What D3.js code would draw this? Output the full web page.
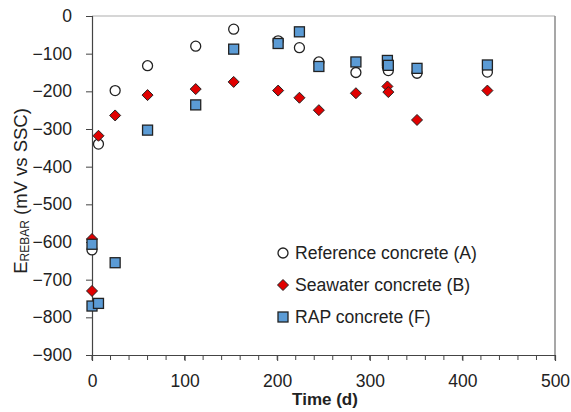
<!DOCTYPE html>
<html>
<head>
<meta charset="utf-8">
<script src="https://cdn.jsdelivr.net/npm/d3@7"></script>
<style>
  body { margin: 0; background: #fff; }
  svg { font-family: "Liberation Sans", "DejaVu Sans", sans-serif; }
  .tick text { font-size: 17.5px; fill: #222; }
</style>
</head>
<body>
<svg id="chart" width="571" height="412"></svg>
<script>
// Reference concrete (A): [time in days, potential in mV]
const refData = [
  [0, -621], [7, -340], [25, -198], [60, -132], [112, -80], [153, -35],
  [201, -66], [224, -84], [245, -122], [285, -150], [319, -136], [320, -145],
  [351, -152], [427, -149]
];
// Seawater concrete (B)
const seaData = [
  [0, -592], [0, -730], [7, -318], [25, -264], [60, -210], [112, -194], [153, -175],
  [201, -198], [224, -217], [245, -250], [285, -205], [319, -187], [320, -202],
  [351, -276], [427, -198]
];
// RAP concrete (F)
const rapData = [
  [0, -606], [0, -770], [7, -763], [25, -655], [60, -303], [112, -236], [153, -88],
  [201, -73], [224, -42], [245, -134], [285, -122], [319, -118], [320, -131],
  [351, -139], [427, -130]
];
const xTicks = [0, 100, 200, 300, 400, 500];
const yTicks = [0, -100, -200, -300, -400, -500, -600, -700, -800, -900];
const legendLabels = ["Reference concrete (A)", "Seawater concrete (B)", "RAP concrete (F)"];

const svg = d3.select("#chart");
const margin = { left: 92, right: 16, top: 16, bottom: 57 };
const W = 571, H = 412;

const x = d3.scaleLinear().domain([0, 500]).range([margin.left, W - margin.right]);
const y = d3.scaleLinear().domain([-900, 0]).range([H - margin.bottom, margin.top]);

// plot box: light top, darker right edge
svg.append("line")
  .attr("x1", x(0)).attr("x2", x(500)).attr("y1", y(0)).attr("y2", y(0))
  .attr("stroke", "#c8c8c8").attr("stroke-width", 1.5);
svg.append("line")
  .attr("x1", x(500)).attr("x2", x(500)).attr("y1", y(0)).attr("y2", y(-900))
  .attr("stroke", "#8a8a8a").attr("stroke-width", 1.5);

// minor x ticks every 20 days
svg.append("g").selectAll("line")
  .data(d3.range(0, 501, 20))
  .join("line")
  .attr("x1", d => x(d)).attr("x2", d => x(d))
  .attr("y1", y(-900)).attr("y2", y(-900) + 5)
  .attr("stroke", "#444");

const xAxis = svg.append("g")
  .attr("transform", `translate(0,${y(-900)})`)
  .call(d3.axisBottom(x).tickValues(xTicks).tickSize(6).tickPadding(14));
const yAxis = svg.append("g")
  .attr("transform", `translate(${x(0)},0)`)
  .call(d3.axisLeft(y).tickValues(yTicks).tickSize(6).tickPadding(14));
[xAxis, yAxis].forEach(g => {
  g.select(".domain").attr("stroke", "#444").attr("stroke-width", 1.2);
  g.selectAll(".tick line").attr("stroke", "#444");
});

// axis titles
svg.append("text")
  .attr("x", 325).attr("y", 405)
  .attr("text-anchor", "middle")
  .attr("font-size", 17).attr("font-weight", "bold").attr("fill", "#222")
  .text("Time (d)");

const yt = svg.append("text")
  .attr("transform", `translate(27,191) rotate(-90)`)
  .attr("text-anchor", "middle")
  .attr("font-size", 18.5).attr("fill", "#222");
yt.append("tspan").text("E");
yt.append("tspan").attr("font-size", 12).attr("dy", 2).text("REBAR");
yt.append("tspan").attr("dy", -2).text(" (mV vs SSC)");

// marker drawers
function circleMark(sel) {
  sel.append("circle").attr("r", 5)
    .attr("fill", "#fff").attr("stroke", "#222").attr("stroke-width", 1.3);
}
function diamondMark(sel) {
  sel.append("path").attr("d", "M0,-5.5L5.5,0L0,5.5L-5.5,0Z")
    .attr("fill", "#e00000").attr("stroke", "#222").attr("stroke-width", 1);
}
function squareMark(sel) {
  sel.append("rect").attr("x", -5).attr("y", -5).attr("width", 10).attr("height", 10)
    .attr("fill", "#5b9bd5").attr("stroke", "#222").attr("stroke-width", 1.3);
}

const series = [
  { data: refData, mark: circleMark },
  { data: seaData, mark: diamondMark },
  { data: rapData, mark: squareMark }
];

series.forEach(s => {
  svg.append("g").selectAll("g")
    .data(s.data)
    .join("g")
    .attr("transform", d => `translate(${x(d[0])},${y(d[1])})`)
    .call(s.mark);
});

// legend
const legend = svg.append("g").attr("transform", "translate(283,253)");
legendLabels.forEach((lbl, i) => {
  const row = legend.append("g").attr("transform", `translate(0,${i * 32})`);
  row.call(series[i].mark);
  row.append("text")
    .attr("x", 12).attr("dy", "0.36em")
    .attr("font-size", 17.6).attr("fill", "#222")
    .text(lbl);
});
</script>
</body>
</html>
